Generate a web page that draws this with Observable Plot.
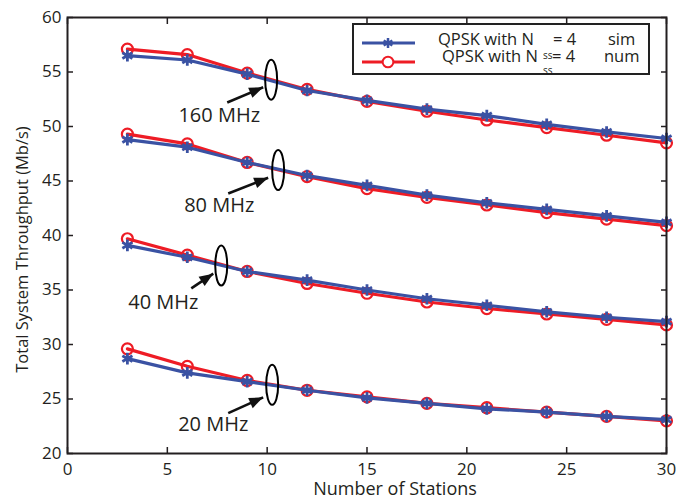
<!DOCTYPE html>
<html><head><meta charset="utf-8">
<script src="https://cdn.jsdelivr.net/npm/d3@7"></script>
<script src="https://cdn.jsdelivr.net/npm/@observablehq/plot@0.6"></script>
<style>
body{margin:0;background:#fff;font-family:"Open Sans",sans-serif}
#wrap{position:relative;width:679px;height:503px}
#legend{position:absolute;left:352px;top:23px;width:294px;height:48px;border:2px solid #222;background:#fff;font-family:"Open Sans",sans-serif;color:#231f20}
#legend .t{position:absolute;font-size:16.5px;white-space:pre;line-height:14px}
#legend .s{position:absolute;font-size:10px;line-height:8px}
#legend svg{position:absolute;left:0;top:0}
</style></head><body><div id="wrap"></div>
<script>
const stations = [3, 6, 9, 12, 15, 18, 21, 24, 27, 30];
const bands = ["160 MHz", "80 MHz", "40 MHz", "20 MHz"];
const sim160 = [56.5, 56.1, 54.8, 53.3, 52.4, 51.6, 51.0, 50.2, 49.5, 48.9];
const num160 = [57.1, 56.6, 54.9, 53.4, 52.3, 51.4, 50.6, 49.9, 49.2, 48.5];
const sim80  = [48.8, 48.1, 46.7, 45.5, 44.6, 43.7, 43.0, 42.4, 41.8, 41.2];
const num80  = [49.3, 48.4, 46.7, 45.4, 44.3, 43.5, 42.8, 42.1, 41.5, 40.9];
const sim40  = [39.1, 38.0, 36.7, 35.9, 35.0, 34.2, 33.6, 33.0, 32.5, 32.1];
const num40  = [39.7, 38.2, 36.7, 35.6, 34.7, 33.9, 33.3, 32.8, 32.3, 31.8];
const sim20  = [28.7, 27.4, 26.6, 25.8, 25.1, 24.6, 24.1, 23.8, 23.4, 23.1];
const num20  = [29.6, 28.0, 26.7, 25.8, 25.2, 24.6, 24.2, 23.8, 23.4, 23.0];
const xTicks = [0, 5, 10, 15, 20, 25, 30];
const yTicks = [20, 25, 30, 35, 40, 45, 50, 55, 60];
const xTitle = "Number of Stations";
const yTitle = "Total System Throughput (Mb/s)";
// annotations (data coordinates)
const labelX = [7.6, 7.6, 4.8, 7.3];
const labelY = [51.0, 42.75, 33.85, 22.66];
const ellipseX = [10.2, 10.55, 7.7, 10.25];
const ellipseY = [54.3, 46.0, 37.25, 26.3];
const arrowX1 = [8.0, 8.05, 6.2, 8.05];
const arrowY1 = [52.2, 43.85, 35.15, 23.7];
const arrowX2 = [9.8, 10.05, 7.3, 9.8];
const arrowY2 = [53.6, 45.3, 36.5, 25.15];

const simSeries = [sim160, sim80, sim40, sim20];
const numSeries = [num160, num80, num40, num20];
const simRows = [], numRows = [];
bands.forEach((b, i) => stations.forEach((s, j) => {
  simRows.push({band: b, x: s, y: simSeries[i][j]});
  numRows.push({band: b, x: s, y: numSeries[i][j]});
}));
const ann = bands.map((b, i) => ({band: b, lx: labelX[i], ly: labelY[i], ex: ellipseX[i], ey: ellipseY[i],
  x1: arrowX1[i], y1: arrowY1[i], x2: arrowX2[i], y2: arrowY2[i]}));

const BLUE = "#3a52a3", RED = "#ee1c25", INK = "#231f20";
const ellipseSymbol = {draw(ctx) {
  const rx = 6, ry = 20, k = 0.5523;
  ctx.moveTo(rx, 0);
  ctx.bezierCurveTo(rx, ry * k, rx * k, ry, 0, ry);
  ctx.bezierCurveTo(-rx * k, ry, -rx, ry * k, -rx, 0);
  ctx.bezierCurveTo(-rx, -ry * k, -rx * k, -ry, 0, -ry);
  ctx.bezierCurveTo(rx * k, -ry, rx, -ry * k, rx, 0);
  ctx.closePath();
}};
// arrow head with its tip at the origin, pointing up
const headSymbol = {draw(ctx) {
  ctx.moveTo(0, 0); ctx.lineTo(-5.5, 14); ctx.lineTo(5.5, 14); ctx.closePath();
}};

function build(extra) {
  return Plot.plot({
    width: 679, height: 503,
    marginLeft: 67, marginRight: 13, marginTop: 17, marginBottom: 50,
    style: {fontFamily: "Open Sans, sans-serif", background: "#fff", color: INK},
    x: {domain: [0, 30]},
    y: {domain: [20, 60]},
    marks: [
      Plot.axisX({ticks: xTicks, tickSize: -6, tickPadding: 15, fontSize: 17, label: null, stroke: INK, strokeWidth: 1.5, color: INK}),
      Plot.axisX({anchor: "top", ticks: xTicks, tickSize: -6, tickFormat: () => "", label: null, stroke: INK, strokeWidth: 1.5}),
      Plot.axisY({ticks: yTicks, tickSize: -6, tickPadding: 12, fontSize: 17, label: null, stroke: INK, strokeWidth: 1.5, color: INK}),
      Plot.axisY({anchor: "right", ticks: yTicks, tickSize: -6, tickFormat: () => "", label: null, stroke: INK, strokeWidth: 1.5}),
      Plot.lineY(numRows, {x: "x", y: "y", z: "band", stroke: RED, strokeWidth: 3.2}),
      Plot.dot(numRows, {x: "x", y: "y", r: 5.5, stroke: RED, strokeWidth: 2.2, fill: "none"}),
      Plot.lineY(simRows, {x: "x", y: "y", z: "band", stroke: BLUE, strokeWidth: 3.2}),
      Plot.dot(simRows, {x: "x", y: "y", r: 5.5, symbol: "asterisk", stroke: BLUE, strokeWidth: 2.8}),
      Plot.dot(ann, {x: "ex", y: "ey", symbol: ellipseSymbol, stroke: "#000", strokeWidth: 2, fill: "none"}),
      Plot.link(ann, {x1: "x1", y1: "y1", x2: "x2", y2: "y2", stroke: "#111", strokeWidth: 2.6}),
      ...extra,
      Plot.text(ann, {x: "lx", y: "ly", text: "band", fontSize: 20, fill: INK}),
      Plot.frame({stroke: INK, strokeWidth: 2}),
      Plot.text([xTitle], {frameAnchor: "bottom", dx: 28, dy: 41.5, fontSize: 18, fill: INK}),
      Plot.text([yTitle], {frameAnchor: "left", textAnchor: "middle", rotate: -90, dx: -45, dy: 14, fontSize: 16.5, fill: INK})
    ]
  });
}
// first pass to read the scales, then orient the filled arrow heads
const probe = build([]);
const sx = probe.scale("x"), sy = probe.scale("y");
ann.forEach(a => {
  const dxp = sx.apply(a.x2) - sx.apply(a.x1), dyp = sy.apply(a.y2) - sy.apply(a.y1);
  a.rot = Math.atan2(dxp, -dyp) * 180 / Math.PI;
});
const chart = build([Plot.dot(ann, {x: "x2", y: "y2", symbol: headSymbol, rotate: "rot", fill: "#111", stroke: "none"})]);
const wrap = document.getElementById("wrap");
wrap.appendChild(chart);

// legend overlay
const legendItems = [
  {label: "QPSK with N", eq: "= 4", kind: "sim", color: BLUE, symbol: "asterisk"},
  {label: "QPSK with N", eq: "= 4", kind: "num", color: RED, symbol: "circle"}
];
const lg = document.createElement("div");
lg.id = "legend";
const ns = "http://www.w3.org/2000/svg";
const svg = document.createElementNS(ns, "svg");
svg.setAttribute("width", 70); svg.setAttribute("height", 48);
function span(cls, text, left, top) {
  const e = document.createElement("span");
  e.className = cls; e.textContent = text;
  e.style.left = left + "px"; e.style.top = top + "px";
  lg.appendChild(e);
}
legendItems.forEach((it, i) => {
  const cy = 18 + i * 19;
  const ln = document.createElementNS(ns, "line");
  ln.setAttribute("x1", 8); ln.setAttribute("x2", 61); ln.setAttribute("y1", cy); ln.setAttribute("y2", cy);
  ln.setAttribute("stroke", it.color); ln.setAttribute("stroke-width", 3);
  svg.appendChild(ln);
  const p = document.createElementNS(ns, "path");
  p.setAttribute("d", d3.symbol(it.symbol === "asterisk" ? d3.symbolAsterisk : d3.symbolCircle, it.symbol === "asterisk" ? 70 : 90)());
  p.setAttribute("transform", `translate(34,${cy})`);
  p.setAttribute("stroke", it.color); p.setAttribute("stroke-width", it.symbol === "asterisk" ? 2.5 : 2);
  p.setAttribute("fill", it.symbol === "asterisk" ? "none" : "#fff");
  svg.appendChild(p);
  const top = 7 + i * 16.5;
  span("t", it.label, 84 + i * 4, top);
  span("t", it.eq, 199 - i, top);
  span("t", it.kind, i === 0 ? 254 : 250, top);
  span("s", "ss", 189, 26 + i * 15);
});
lg.appendChild(svg);
wrap.appendChild(lg);
</script>
</body></html>
